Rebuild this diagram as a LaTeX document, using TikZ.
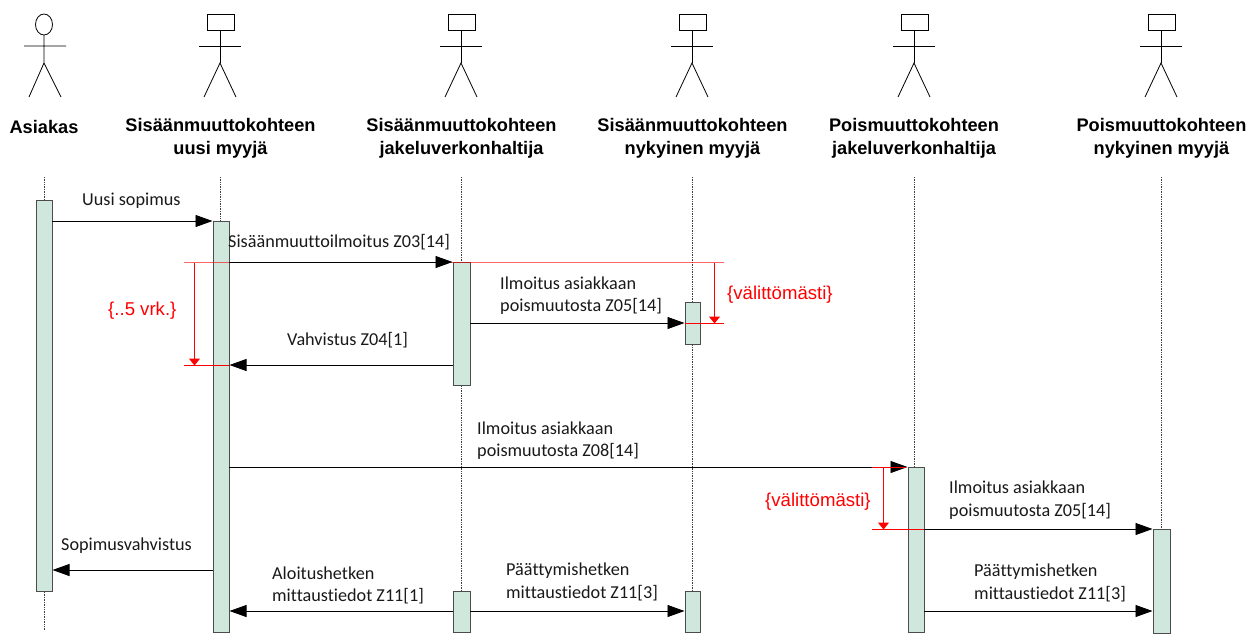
\documentclass[tikz,border=0pt]{standalone}
\usepackage{fontspec}
\setmainfont{Liberation Sans}
\newfontfamily\msgfamily[Ligatures=NoCommon]{Carlito}
\usetikzlibrary{arrows.meta, positioning}

\definecolor{barfill}{HTML}{CFE7DD}
\definecolor{limitred}{HTML}{FF0000}

\tikzset{
    party/.style={font=\fontsize{18.2}{23}\selectfont\bfseries, align=center, inner sep=0pt},
    figure/.style={draw=black, line width=0.8pt},
    lifeline/.style={draw=black!75, line width=0.7pt, densely dotted},
    barbox/.style={draw=black!70, line width=1pt, fill=barfill, minimum width=16pt, inner sep=0pt, outer sep=0pt},
    msg/.style={draw=black, line width=0.9pt, -{Triangle[length=17pt,width=12pt]}, shorten >=0.5pt},
    msgtext/.style={font=\msgfamily\fontsize{18.2}{22.5}\selectfont, align=left, anchor=west, inner sep=0pt, text=black!90},
    limit/.style={draw=limitred, line width=1pt},
    limitarrow/.style={limit, -{Triangle[length=7pt,width=11pt]}},
    limittext/.style={font=\fontsize{18.6}{22}\selectfont, text=limitred, anchor=west, inner sep=0pt},
}

\begin{document}
\begin{tikzpicture}[x=1pt,y=-1pt]
\useasboundingbox (0,0) rectangle (1255,633);

% Stick figures
\draw[figure] (44,24.5) ellipse [x radius=8.5, y radius=10.5];
\draw[figure] (44,35) -- (44,63) (24,46) -- (66,46) (29,97) -- (44,63) -- (61,97);
\foreach \x in {220,461,692,914,1161} {
    \draw[figure] ({\x-13},14.5) rectangle ({\x+14},30.5);
    \draw[figure] (\x,30.5) -- (\x,63) ({\x-21},46) -- ({\x+21},46);
    \draw[figure] ({\x-16},97) -- (\x,63) -- ({\x+16},97);
}

% Parties
\node[party] (asiakas) at (44,127) {Asiakas};
\node[party] (uusi) at (220.5,138.5) {Sisäänmuuttokohteen\\uusi myyjä};
\node[party] (verkkoSis) at (461.5,138.5) {Sisäänmuuttokohteen\\jakeluverkonhaltija};
\node[party] (nykySis) at (692.5,138.5) {Sisäänmuuttokohteen\\nykyinen myyjä};
\node[party] (verkkoPois) at (914,138.5) {Poismuuttokohteen\\jakeluverkonhaltija};
\node[party] (nykyPois) at (1161.5,138.5) {Poismuuttokohteen\\nykyinen myyjä};

% Lifelines
\foreach \x/\name in {44/A,220/B,461/C,692/D,914/E,1161/F} {
    \coordinate (top\name) at (\x,177);
    \coordinate (end\name) at (\x,630);
    \draw[lifeline] (top\name) -- (end\name);
}

% Activation bars
\node[barbox, minimum height=391pt] (barA) at (44,395.5) {};
\node[barbox, minimum height=411pt] (barB) at (221,426.5) {};
\node[barbox, minimum height=123pt, minimum width=17pt] (barC) at (461.5,323.5) {};
\node[barbox, minimum height=42pt, minimum width=15pt] (barD) at (692.5,323) {};
\node[barbox, minimum height=165pt] (barE) at (916,549.5) {};
\node[barbox, minimum height=104pt, minimum width=17pt] (barF) at (1161.5,581) {};
\node[barbox, minimum height=41pt, minimum width=17pt] (barCend) at (461.5,611.5) {};
\node[barbox, minimum height=41pt, minimum width=15pt] (barDend) at (692.5,611.5) {};

% Upper time limit line, under the messages
\coordinate (limTopL) at (184,262.5);
\coordinate (limTopR) at (724,262.5);
\draw[limit, opacity=0.6] (limTopL) -- (limTopR);

% Messages
\coordinate (vahvistus) at (0,365);
\coordinate (sopimus) at (0,570);
\coordinate (mittaus) at (0,611);
\draw[msg] (barA.east |- barB.north) -- (barB.north west);
\draw[msg] (barB.east |- barC.north) -- (barC.north west);
\draw[msg] (barC.east |- barD.center) -- (barD.west);
\draw[msg] (barC.west |- vahvistus) -- (barB.east |- vahvistus);
\draw[msg] (barB.east |- barE.north) -- (barE.north west);
\draw[msg] (barE.east |- barF.north) -- (barF.north west);
\draw[msg] (barB.west |- sopimus) -- (barA.east |- sopimus);
\draw[msg] (barCend.west |- mittaus) -- (barB.east |- mittaus);
\draw[msg] (barCend.east |- mittaus) -- (barDend.west |- mittaus);
\draw[msg] (barE.east |- mittaus) -- (barF.west |- mittaus);

% Message labels
\node[msgtext] (txtUusi) at (82,200.5) {Uusi sopimus};
\node[msgtext] (txtZ03) at (228,242) {Sisäänmuuttoilmoitus Z03[14]};
\node[msgtext] (txtZ05a) at (500,295.5) {Ilmoitus asiakkaan\\poismuutosta Z05[14]};
\node[msgtext] (txtZ04) at (287,340) {Vahvistus Z04[1]};
\node[msgtext] (txtZ08) at (477,440.5) {Ilmoitus asiakkaan\\poismuutosta Z08[14]};
\node[msgtext] (txtZ05b) at (949,500) {Ilmoitus asiakkaan\\poismuutosta Z05[14]};
\node[msgtext] (txtSopimus) at (61,546) {Sopimusvahvistus};
\node[msgtext] (txtZ11a) at (272,585.5) {Aloitushetken\\mittaustiedot Z11[1]};
\node[msgtext] (txtZ11b) at (506,582) {Päättymishetken\\mittaustiedot Z11[3]};
\node[msgtext] (txtZ11c) at (974,583) {Päättymishetken\\mittaustiedot Z11[3]};

% Time limits
\coordinate (limVahL) at (184,365.5);
\coordinate (limVahR) at (229,365.5);
\coordinate (limIlmL) at (685,323.5);
\coordinate (limIlmR) at (724,323.5);
\coordinate (limPoisL) at (872,467.5);
\coordinate (limPoisR) at (906,467.5);
\coordinate (limNykL) at (872,529.5);
\coordinate (limNykR) at (924,529.5);
\draw[limit] (limVahL) -- (limVahR);
\draw[limit] (limIlmL) -- (limIlmR);
\draw[limit] (limPoisL) -- (limPoisR);
\draw[limit] (limNykL) -- (limNykR);
\draw[limitarrow] (194.5,262.5) -- (194.5,365.5);
\draw[limitarrow] (714.5,262.5) -- (714.5,323.5);
\draw[limitarrow] (883.5,467.5) -- (883.5,529.5);
\node[limittext] (txtVrk) at (108,311) {\{..5 vrk.\}};
\node[limittext] (txtVali) at (727,295) {\{välittömästi\}};
\node[limittext] (txtValiB) at (765,502) {\{välittömästi\}};
\end{tikzpicture}
\end{document}
